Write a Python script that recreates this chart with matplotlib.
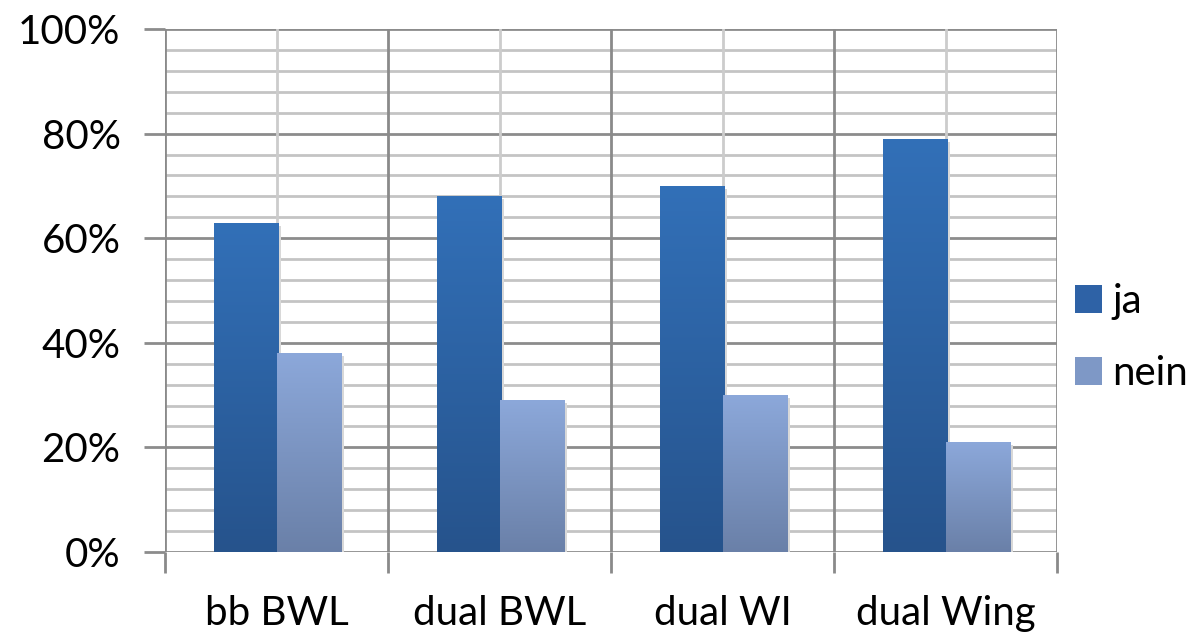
import numpy as np
import matplotlib.pyplot as plt
from matplotlib.colors import LinearSegmentedColormap
from matplotlib.patches import Patch

# data
categories = ['bb BWL', 'dual BWL', 'dual WI', 'dual Wing']
ja = [63, 68, 70, 79]
nein = [38, 29, 30, 21]
series_names = ['ja', 'nein']

plt.rcParams['font.family'] = ['Lato', 'DejaVu Sans']

fig = plt.figure(figsize=(11.96, 6.37), dpi=100)
ax = fig.add_axes([165 / 1196, 1 - 552 / 637, (1057 - 165) / 1196, (552 - 29) / 637])

x = np.arange(len(categories))
w = 0.287

# gradient colours (top -> bottom)
ja_cmap = LinearSegmentedColormap.from_list('ja', ['#3270B8', '#26538C'])
nein_cmap = LinearSegmentedColormap.from_list('nein', ['#8CA8DA', '#6A80A8'])


def GradientBars(xs, vals, cmap):
    bars = ax.bar(xs, vals, width=w, align='edge', color='none', zorder=3)
    grad = np.linspace(0, 1, 256).reshape(-1, 1)
    for b in bars:
        x0, y0 = b.get_x(), b.get_y()
        x1, y1 = x0 + b.get_width(), y0 + b.get_height()
        # soft shadow on the right
        ax.bar(x0 + 0.012, b.get_height(), width=b.get_width(), align='edge',
               color='#d8d8d8', zorder=2.5, bottom=-0.6)
        im = ax.imshow(grad, cmap=cmap, extent=[x0, x1, y0, y1], aspect='auto',
                       origin='upper', zorder=3)
        im.set_clip_path(b)
    return bars


GradientBars(x - 0.28, ja, ja_cmap)
GradientBars(x + 0.002, nein, nein_cmap)

ax.set_xlim(-0.5, len(categories) - 0.5)
ax.set_ylim(0, 100)

# horizontal grid: major every 20, minor every 4
for v in range(0, 101, 4):
    major = v % 20 == 0
    ax.axhline(v, color='#8c8c8c' if major else '#c4c4c4', lw=2.0, zorder=1)
# vertical grid: boundaries darker, centers lighter
for b in np.arange(-0.5, len(categories), 1.0):
    ax.axvline(b, color='#8a8a8a', lw=2.0, zorder=1)
for c in x:
    ax.axvline(c, color='#cccccc', lw=2.0, zorder=1)

for s in ax.spines.values():
    s.set_visible(False)

ax.set_yticks(range(0, 101, 20))
ax.set_yticklabels([f'{v}%' for v in range(0, 101, 20)])
ax.tick_params(axis='y', length=15, width=2, color='#8c8c8c', labelsize=29, pad=17)

ax.set_xticks(x)
ax.set_xticklabels(categories)
ax.set_xticks(np.arange(-0.5, len(categories), 1.0), minor=True)
ax.tick_params(axis='x', which='major', length=0, labelsize=29, pad=31)
ax.tick_params(axis='x', which='minor', length=15, width=2, color='#8a8a8a')

handles = [Patch(facecolor='#2E62A6', edgecolor='none'),
           Patch(facecolor='#7E98C6', edgecolor='none')]
leg = ax.legend(handles, series_names, loc='center left', bbox_to_anchor=(1.02, 0.41),
                frameon=False, fontsize=29, handlelength=0.68, handleheight=0.68,
                handletextpad=0.25, labelspacing=0.87, borderpad=0, borderaxespad=0)

fig.savefig('out.png', dpi=100)
